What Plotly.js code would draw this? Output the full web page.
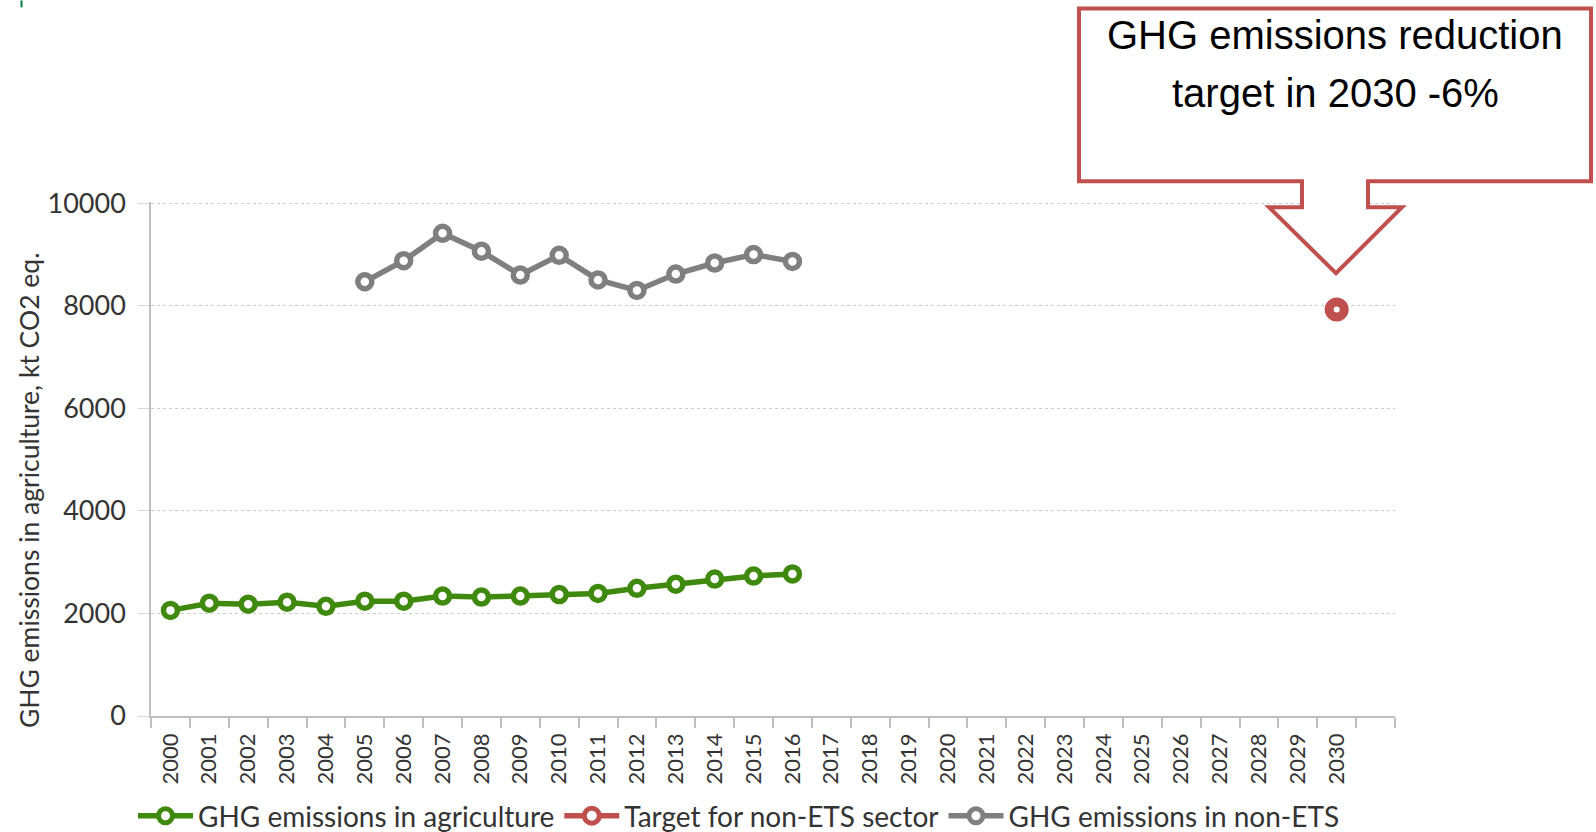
<!DOCTYPE html>
<html>
<head>
<meta charset="utf-8">
<script src="https://cdn.plot.ly/plotly-3.0.1.min.js"></script>
<style>html,body{margin:0;padding:0;background:#fff;}#chart{width:1596px;height:832px;}</style>
</head>
<body>
<div id="chart"></div>
<script>
const years = ["2000","2001","2002","2003","2004","2005","2006","2007","2008","2009","2010","2011","2012","2013","2014","2015","2016","2017","2018","2019","2020","2021","2022","2023","2024","2025","2026","2027","2028","2029","2030"," "];
const agriYears = ["2000","2001","2002","2003","2004","2005","2006","2007","2008","2009","2010","2011","2012","2013","2014","2015","2016"];
const agriValues = [2060,2200,2180,2220,2140,2240,2240,2340,2320,2340,2370,2390,2490,2570,2670,2730,2770];
const targetYears = ["2030"];
const targetValues = [7930];
const nonEtsYears = ["2005","2006","2007","2008","2009","2010","2011","2012","2013","2014","2015","2016"];
const nonEtsValues = [8470,8880,9415,9065,8600,8985,8505,8300,8620,8835,9000,8865];
const yTicks = [0,2000,4000,6000,8000,10000];

const yMax = 10025;
const L = 151, R = 1395, B = 716;
const T = B - (B - 203) * yMax / 10000;
const px = x => (x - L) / (R - L);
const py = y => (B - y) / (B - T);

const FONT = "Lato, 'Open Sans', sans-serif";
const CALLOUT_FONT = "'Liberation Sans', Arial, sans-serif";
const traces = [
  {x: agriYears, y: agriValues, name: "GHG emissions in agriculture", type: "scatter", mode: "lines+markers",
   line: {color: "#3f8a0e", width: 5.5}, marker: {symbol: "circle", size: 14, color: "#ffffff", line: {color: "#3f8a0e", width: 5.5}}},
  {x: targetYears, y: targetValues, name: "Target for non-ETS sector", type: "scatter", mode: "lines+markers",
   line: {color: "#c0504d", width: 5.5}, marker: {symbol: "circle", size: 15, color: "#ffffff", line: {color: "#c0504d", width: 9}}},
  {x: nonEtsYears, y: nonEtsValues, name: "GHG emissions in non-ETS", type: "scatter", mode: "lines+markers",
   line: {color: "#7f7f7f", width: 5.5}, marker: {symbol: "circle", size: 14, color: "#ffffff", line: {color: "#7f7f7f", width: 5.5}}}
];

const pts = [[1079,8],[1591,8],[1591,181],[1368,181],[1368,207],[1402,207],[1336,273],[1269,207],[1302,207],[1302,181],[1079,181]];
const path = pts.map((p,i) => (i ? "L" : "M") + px(p[0]).toFixed(5) + "," + py(p[1]).toFixed(5)).join(" ") + " Z";

const layout = {
  width: 1596, height: 832,
  margin: {l: L, r: 1596 - R, t: T, b: 832 - B, pad: 0, autoexpand: false},
  paper_bgcolor: "#ffffff", plot_bgcolor: "#ffffff",
  showlegend: true,
  legend: {orientation: "h", xref: "container", yref: "container", x: 133 / 1596, xanchor: "left", y: 1 - 816 / 832, yanchor: "middle",
           font: {family: FONT, size: 28, color: "#333333"}, itemwidth: 55, bgcolor: "rgba(0,0,0,0)"},
  xaxis: {type: "category", categoryorder: "array", categoryarray: years, range: [-0.5, 31.5],
          tickson: "boundaries", ticks: "outside", ticklen: 10, tickcolor: "#bfbfbf", tickwidth: 1.5,
          showline: true, linecolor: "#bfbfbf", linewidth: 1.5, showgrid: false, zeroline: false,
          tickangle: -90, tickfont: {family: FONT, size: 22, color: "#333333"}, ticklabelstandoff: 7, fixedrange: true},
  yaxis: {range: [0, yMax], tickvals: yTicks, ticktext: yTicks.map(String), ticks: "outside", ticklen: 11,
          tickcolor: "#d9d9d9", tickwidth: 1, showline: true, linecolor: "#bfbfbf", linewidth: 1.5,
          showgrid: true, gridcolor: "#cccccc", griddash: "3px,3px", gridwidth: 1, zeroline: false,
          tickfont: {family: FONT, size: 27, color: "#333333"}, ticklabelstandoff: 7, fixedrange: true},
  shapes: [
    {type: "path", xref: "paper", yref: "paper", path: path, line: {color: "#c0504d", width: 4}, fillcolor: "#ffffff", layer: "above"},
    {type: "line", xref: "paper", yref: "paper", x0: px(21.5), x1: px(21.5), y0: py(0), y1: py(7), line: {color: "#00843d", width: 2}}
  ],
  annotations: [
    {text: "GHG emissions reduction", xref: "paper", yref: "paper", x: px(1335), y: py(35), xanchor: "center", yanchor: "middle",
     showarrow: false, font: {family: CALLOUT_FONT, size: 40, color: "#000000"}},
    {text: "target in 2030 -6%", xref: "paper", yref: "paper", x: px(1335), y: py(93), xanchor: "center", yanchor: "middle",
     showarrow: false, font: {family: CALLOUT_FONT, size: 40, color: "#000000"}},
    {text: "GHG emissions in agriculture, kt CO2 eq.", xref: "paper", yref: "paper", x: px(29), y: py(490), xanchor: "center", yanchor: "middle",
     textangle: -90, showarrow: false, font: {family: FONT, size: 26.5, color: "#333333"}}
  ]
};

Plotly.newPlot("chart", traces, layout, {displayModeBar: false, responsive: false});
</script>
</body>
</html>
